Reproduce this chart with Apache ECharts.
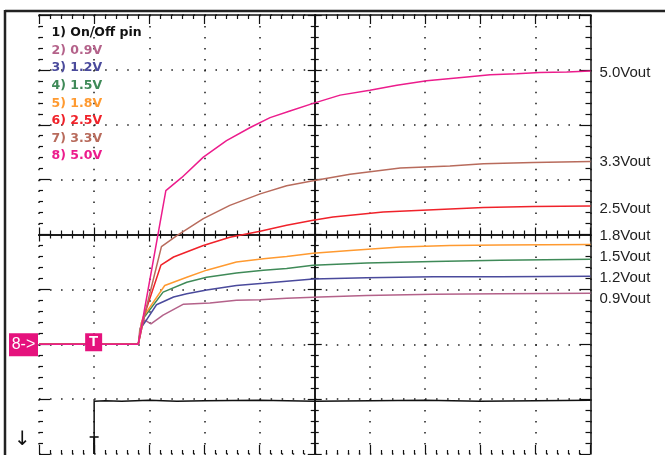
<!DOCTYPE html>
<html><head><meta charset="utf-8">
<script src="https://cdn.jsdelivr.net/npm/echarts@6/dist/echarts.min.js"></script>
<style>html,body{margin:0;padding:0;background:#fff}#c{width:665px;height:455px}</style>
</head><body><div id="c"></div>
<script>
// ---- data (x in screen divisions, y in volts) ----
const seriesNames = ['1) On/Off pin','2) 0.9V','3) 1.2V','4) 1.5V','5) 1.8V','6) 2.5V','7) 3.3V','8) 5.0V'];
const endLabels = [null,'0.9Vout','1.2Vout','1.5Vout','1.8Vout','2.5Vout','3.3Vout','5.0Vout'];
const seriesColors = ['#111111','#b4628a','#4a4a9c','#3f8a58','#ff9a30','#f0222a','#b86b5c','#ec1c8c'];

const onOffPin = [[1.0,-2.0],[1.0,-1.04],[1.2,-1.03],[1.5,-1.04],[2.0,-1.02],[2.5,-1.04],[3.0,-1.03],[4.0,-1.02],[5.0,-1.04],[6.0,-1.03],[7.0,-1.02],[8.0,-1.04],[9.0,-1.03],[10.0,-1.02]];
const v09 = [[0,0],[1.80,0],[1.83,0.29],[1.92,0.44],[2.03,0.37],[2.25,0.53],[2.62,0.73],[3.10,0.75],[3.58,0.80],[4.01,0.81],[4.49,0.84],[5.10,0.86],[5.94,0.89],[7.15,0.91],[8.36,0.92],[10,0.93]];
const v12 = [[0,0],[1.80,0],[1.85,0.30],[1.92,0.40],[2.13,0.72],[2.44,0.86],[2.68,0.92],[3.04,0.99],[3.58,1.07],[4.07,1.11],[4.49,1.15],[4.97,1.19],[5.94,1.21],[7.15,1.23],[8.36,1.23],[10,1.24]];
const v15 = [[0,0],[1.80,0],[1.86,0.40],[1.92,0.51],[2.25,0.95],[2.68,1.13],[3.04,1.22],[3.58,1.30],[4.07,1.35],[4.49,1.38],[4.97,1.44],[5.94,1.48],[7.15,1.51],[8.36,1.53],[10,1.55]];
const v18 = [[0,0],[1.80,0],[1.86,0.40],[1.89,0.50],[2.28,1.07],[2.68,1.22],[3.04,1.35],[3.58,1.50],[4.07,1.56],[4.49,1.60],[4.97,1.66],[5.64,1.71],[6.55,1.77],[7.45,1.80],[8.36,1.81],[10,1.82]];
const v25 = [[0,0],[1.80,0],[1.92,0.56],[2.21,1.44],[2.44,1.59],[2.98,1.80],[3.46,1.95],[4.01,2.06],[4.49,2.17],[4.97,2.26],[5.33,2.32],[6.24,2.41],[7.15,2.45],[8.06,2.49],[8.96,2.51],[10,2.52]];
const v33 = [[0,0],[1.80,0],[1.92,0.56],[2.22,1.78],[2.50,1.98],[2.98,2.29],[3.46,2.53],[4.01,2.74],[4.49,2.89],[4.97,2.98],[5.64,3.10],[6.55,3.21],[7.45,3.25],[8.06,3.29],[8.96,3.31],[10,3.33]];
const v50 = [[0,0],[1.80,0],[2.30,2.80],[2.59,3.04],[2.98,3.41],[3.40,3.71],[3.83,3.95],[4.19,4.13],[4.55,4.25],[4.97,4.39],[5.46,4.54],[6.00,4.63],[6.49,4.72],[7.03,4.80],[7.76,4.87],[8.18,4.91],[8.66,4.93],[9.08,4.95],[9.57,4.96],[10,4.98]];
const allData = [onOffPin, v09, v12, v15, v18, v25, v33, v50];

// ---- styling (layout only) ----
const labelDy = [0, 6, 1.5, -2.5, -8.4, 3.3, 0, 1.7];
const K = '#111';
const tickStyle = {color: K, width: 1.2};
const dotColor = '#1a1a1a';

function xAx(extra) {
  return Object.assign({type:'value', min:0, max:10, interval:1, gridIndex:0,
    axisLabel:{show:false}, splitLine:{show:false},
    axisLine:{show:true, onZero:false, lineStyle:{color:K, width:1.5}},
    axisTick:{show:true, inside:true, length:9, lineStyle:tickStyle},
    minorTick:{show:true, splitNumber:5, length:4, lineStyle:tickStyle}}, extra);
}
function yAx(extra) {
  return Object.assign({type:'value', min:-2, max:6, interval:1, gridIndex:0,
    axisLabel:{show:false}, splitLine:{show:false},
    axisLine:{show:true, onZero:false, lineStyle:{color:K, width:1.5}},
    axisTick:{show:true, inside:true, length:11, lineStyle:tickStyle},
    minorTick:{show:true, splitNumber:5, length:4, lineStyle:tickStyle}}, extra);
}

const chart = echarts.init(document.getElementById('c'), null, {renderer:'canvas'});
const series = allData.map((d, i) => {
  const s = {type:'line', name: seriesNames[i], data: d, xAxisIndex:0, yAxisIndex:0,
    showSymbol:false, symbol:'none', silent:true, animation:false, z: 3 + i,
    lineStyle:{color: seriesColors[i], width: 1.5}, itemStyle:{color: seriesColors[i]}};
  if (endLabels[i]) {
    s.endLabel = {show:true, formatter: endLabels[i], distance: 9, offset:[0, labelDy[i]],
      color:'#222', fontSize:15, fontFamily:'Liberation Sans'};
  }
  return s;
});

chart.setOption({
  animation:false,
  backgroundColor:'#ffffff',
  grid:{left:39, top:15, width:551.5, height:439, containLabel:false, outerBoundsMode:'none'},
  legend:{orient:'vertical', left:46.5, top:26, itemWidth:0, itemHeight:14, itemGap:3.6, icon:'rect',
    selectedMode:false, padding:0,
    textStyle:{fontFamily:'DejaVu Sans', fontWeight:'bold', fontSize:12.5, lineHeight:14},
    data: seriesNames.map((n, i) => ({name:n, textStyle:{color: seriesColors[i]}}))},
  xAxis:[
    xAx({position:'bottom', axisLine:{show:false, onZero:false}, axisTick:{show:true, inside:true, length:9, lineStyle:tickStyle},
      splitLine:{show:true, lineStyle:{color:dotColor, width:1.5, type:[1.5, 9.475]}}}),
    xAx({position:'top'}),
    xAx({position:'top', offset:-219.5, axisTick:{show:true, inside:true, length:7, lineStyle:tickStyle}}),
    xAx({position:'top', offset:-219.5, axisTick:{show:true, inside:false, length:7, lineStyle:tickStyle},
      minorTick:{show:true, splitNumber:5, length:4, lineStyle:tickStyle}})
  ],
  yAxis:[
    yAx({position:'left', axisLine:{show:false, onZero:false},
      splitLine:{show:true, lineStyle:{color:dotColor, width:1.5, type:[1.5, 9.53]}}}),
    yAx({position:'right', minorTick:{show:true, splitNumber:5, length:5, lineStyle:tickStyle}}),
    yAx({position:'left', offset:-275.75, axisTick:{show:true, inside:true, length:7, lineStyle:tickStyle}}),
    yAx({position:'left', offset:-275.75, axisTick:{show:true, inside:false, length:7, lineStyle:tickStyle}})
  ],
  series: series
});

const p0 = chart.convertToPixel({xAxisIndex:0, yAxisIndex:0}, [1, 0]);
const pb = chart.convertToPixel({xAxisIndex:0, yAxisIndex:0}, [1, -1.69]);
const pbot = chart.convertToPixel({xAxisIndex:0, yAxisIndex:0}, [1, -2]);
const mag = '#e5127d';
chart.setOption({
  graphic:[
    {type:'line', shape:{x1:5, y1:11, x2:665, y2:11}, style:{stroke:'#222', lineWidth:2.5}, silent:true},
    {type:'line', shape:{x1:5, y1:10, x2:5, y2:455}, style:{stroke:'#222', lineWidth:2.5}, silent:true},
    {type:'rect', shape:{x:9, y:p0[1]-11, width:29, height:23}, style:{fill:mag}, z:100},
    {type:'text', x:23.5, y:p0[1]+0.5, style:{text:'8->', fill:'#fff', font:'16px "Liberation Sans"', align:'center', verticalAlign:'middle'}, z:101},
    {type:'rect', shape:{x:p0[0]-9, y:p0[1]-11, width:17, height:18}, style:{fill:mag}, z:100},
    {type:'text', x:p0[0]-0.5, y:p0[1]-2, style:{text:'T', fill:'#fff', font:'bold 15px "Liberation Sans"', align:'center', verticalAlign:'middle'}, z:101},
    {type:'line', shape:{x1:pb[0]-4.5, y1:pb[1], x2:pb[0]+4.5, y2:pb[1]}, style:{stroke:'#111', lineWidth:1.6}, z:100},
    {type:'line', shape:{x1:pb[0], y1:pb[1], x2:pb[0], y2:pbot[1]}, style:{stroke:'#111', lineWidth:2}, z:100},
    {type:'text', x:22.5, y:440, style:{text:'↓', fill:'#111', font:'20px "DejaVu Sans"', align:'center', verticalAlign:'middle'}, z:101}
  ]
});
</script></body></html>
